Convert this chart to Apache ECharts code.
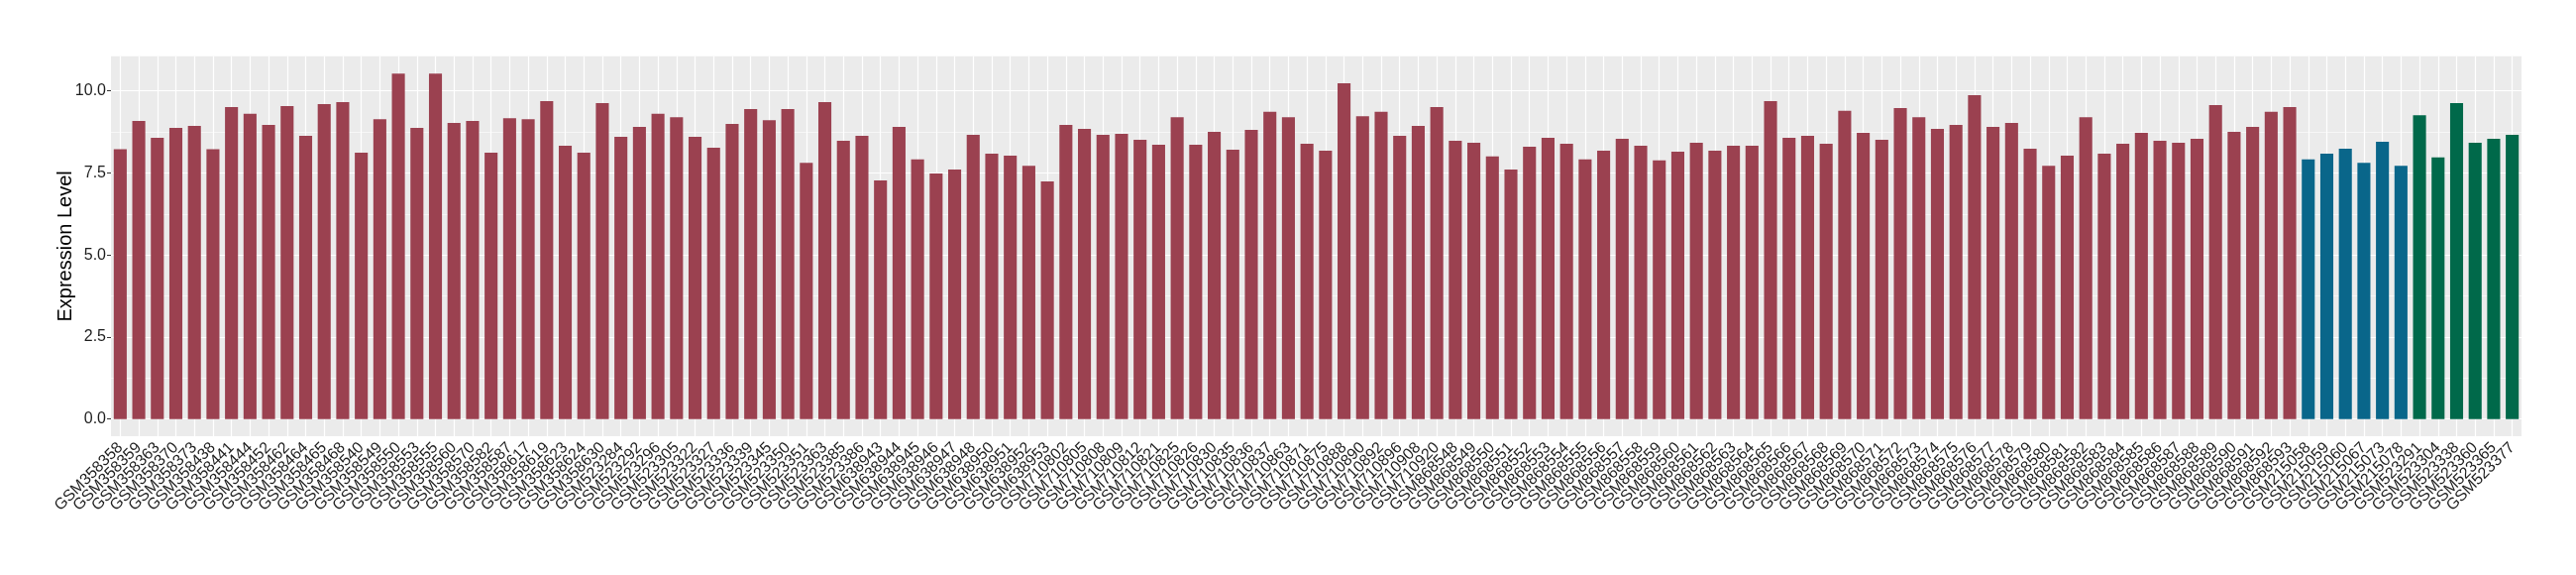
<!DOCTYPE html>
<html>
<head>
<meta charset="utf-8">
<script src="https://cdn.jsdelivr.net/npm/echarts@6/dist/echarts.min.js"></script>
<style>
html,body{margin:0;padding:0;background:#fff;}
#chart{width:2600px;height:580px;}
</style>
</head>
<body>
<div id="chart"></div>
<script>
const categories = [
"GSM358358","GSM358359","GSM358363","GSM358370","GSM358373","GSM358438","GSM358441","GSM358444","GSM358452","GSM358462",
"GSM358464","GSM358465","GSM358468","GSM358540","GSM358549","GSM358550","GSM358553","GSM358555","GSM358560","GSM358570",
"GSM358582","GSM358587","GSM358617","GSM358619","GSM358623","GSM358624","GSM358630","GSM523284","GSM523292","GSM523296",
"GSM523305","GSM523322","GSM523327","GSM523336","GSM523339","GSM523345","GSM523350","GSM523351","GSM523363","GSM523385",
"GSM523386","GSM638943","GSM638944","GSM638945","GSM638946","GSM638947","GSM638948","GSM638950","GSM638951","GSM638952",
"GSM638953","GSM710802","GSM710805","GSM710808","GSM710809","GSM710812","GSM710821","GSM710825","GSM710826","GSM710830",
"GSM710835","GSM710836","GSM710837","GSM710863","GSM710871","GSM710875","GSM710888","GSM710890","GSM710892","GSM710896",
"GSM710908","GSM710920","GSM868548","GSM868549","GSM868550","GSM868551","GSM868552","GSM868553","GSM868554","GSM868555",
"GSM868556","GSM868557","GSM868558","GSM868559","GSM868560","GSM868561","GSM868562","GSM868563","GSM868564","GSM868565",
"GSM868566","GSM868567","GSM868568","GSM868569","GSM868570","GSM868571","GSM868572","GSM868573","GSM868574","GSM868575",
"GSM868576","GSM868577","GSM868578","GSM868579","GSM868580","GSM868581","GSM868582","GSM868583","GSM868584","GSM868585",
"GSM868586","GSM868587","GSM868588","GSM868589","GSM868590","GSM868591","GSM868592","GSM868593","GSM215058","GSM215059",
"GSM215060","GSM215067","GSM215073","GSM215078","GSM523291","GSM523304","GSM523338","GSM523360","GSM523365","GSM523377"
];

const values = [
8.22,9.08,8.57,8.87,8.93,8.22,9.51,9.30,8.96,9.54,
8.63,9.60,9.66,8.12,9.14,10.53,8.87,10.53,9.02,9.08,
8.12,9.17,9.14,9.69,8.33,8.12,9.63,8.60,8.90,9.30,
9.20,8.60,8.27,8.99,9.45,9.11,9.45,7.81,9.66,8.48,
8.63,7.27,8.90,7.91,7.48,7.60,8.66,8.09,8.03,7.72,
7.24,8.96,8.84,8.66,8.69,8.51,8.36,9.20,8.36,8.75,
8.21,8.81,9.36,9.20,8.39,8.18,10.23,9.23,9.36,8.63,
8.93,9.51,8.48,8.42,8.00,7.60,8.30,8.57,8.39,7.91,
8.18,8.54,8.33,7.88,8.15,8.42,8.18,8.33,8.33,9.69,
8.57,8.63,8.39,9.39,8.72,8.51,9.48,9.20,8.84,8.96,
9.87,8.90,9.02,8.24,7.72,8.03,9.20,8.09,8.39,8.72,
8.48,8.42,8.54,9.57,8.75,8.90,9.36,9.51,7.91,8.09,
8.24,7.81,8.45,7.72,9.26,7.97,9.63,8.42,8.54,8.66
];

// group of each sample (first 118, next 6, last 6)
const groupSizes = [118, 6, 6];
const groupColors = ["#9b4150", "#09668a", "#00694a"];

const yTicks = [0, 2.5, 5, 7.5, 10];
const yMinorTicks = [1.25, 3.75, 6.25, 8.75];

const groups = [];
groupSizes.forEach((n, g) => { for (let i = 0; i < n; i++) groups.push(g); });

const barData = values.map((v, i) => ({ value: v, itemStyle: { color: groupColors[groups[i]] } }));

const dataMax = Math.max(...values);
const yMin = -0.05 * dataMax;
const yMax = dataMax * 1.05;

const chart = echarts.init(document.getElementById('chart'), null, { renderer: 'canvas' });
const fontFam = '"Liberation Sans", Arial, Helvetica, sans-serif';

chart.setOption({
  animation: false,
  backgroundColor: '#ffffff',
  grid: {
    left: 112, right: 55, top: 56.7, bottom: 139.9,
    show: true, backgroundColor: '#ebebeb', borderWidth: 0
  },
  xAxis: {
    type: 'category',
    data: categories,
    boundaryGap: true,
    axisLine: { show: false },
    axisTick: { show: true, alignWithLabel: true, length: 4, lineStyle: { color: '#333333', width: 1 } },
    axisLabel: {
      interval: 0, rotate: 45, margin: 9,
      padding: [18, 0, 0, 0],
      fontSize: 16, color: '#1e1e1e', fontFamily: fontFam
    },
    splitLine: { show: false }
  },
  yAxis: {
    type: 'value',
    min: yMin, max: yMax,
    name: 'Expression Level',
    nameLocation: 'middle',
    nameRotate: 90,
    nameGap: 36,
    nameMoveOverlap: false,
    nameTextStyle: { fontSize: 20, color: '#000000', fontFamily: fontFam },
    axisLine: { show: false },
    axisTick: { show: true, customValues: yTicks, length: 4, lineStyle: { color: '#333333', width: 1 } },
    axisLabel: {
      customValues: yTicks, margin: 5,
      fontSize: 16, color: '#1e1e1e', fontFamily: fontFam,
      formatter: v => Number(v).toFixed(1)
    },
    splitLine: { show: false }
  },
  series: [
    {
      type: 'line',
      data: [],
      silent: true,
      z: 1,
      markLine: {
        silent: true,
        z: 1,
        symbol: ['none', 'none'],
        label: { show: false },
        emphasis: { disabled: true },
        animation: false,
        data: [
          ...yMinorTicks.map(v => ({ yAxis: v, lineStyle: { color: '#ffffff', width: 0.6, type: 'solid' } })),
          ...yTicks.map(v => ({ yAxis: v, lineStyle: { color: '#ffffff', width: 1.2, type: 'solid' } })),
          ...categories.map(c => ({ xAxis: c, lineStyle: { color: '#ffffff', width: 1.2, type: 'solid' } }))
        ]
      }
    },
    {
      type: 'bar',
      data: barData,
      barWidth: '70%',
      z: 3,
      silent: true
    }
  ]
});
</script>
</body>
</html>
